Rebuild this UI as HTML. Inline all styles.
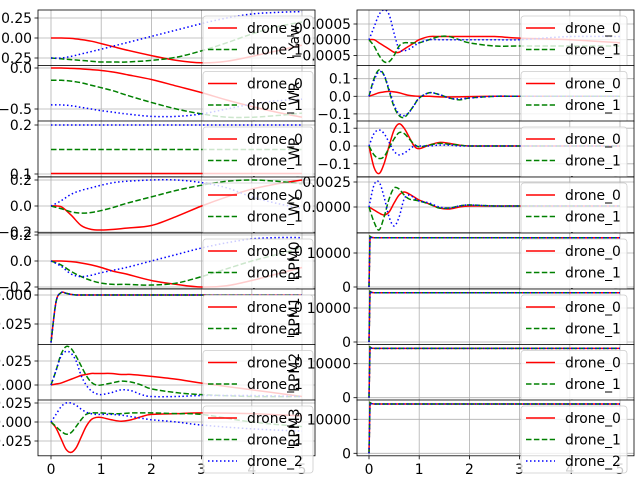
<!DOCTYPE html>
<html><head><meta charset="utf-8"><style>
html,body{margin:0;padding:0;background:#fff;width:640px;height:480px;overflow:hidden}
svg{display:block;font-family:"DejaVu Sans","Liberation Sans",sans-serif}
</style></head><body>
<svg id="fig" width="640" height="480" viewBox="0 0 640 480" xmlns="http://www.w3.org/2000/svg"></svg>
<script>
// ---- data ----
const T1 = [0,0.2,0.4,0.6,0.8,1,1.25,1.5,2,2.5,3,3.5,4,4.5,5];
const T2 = [0,0.1,0.2,0.3,0.4,0.5,0.6,0.7,0.8,0.9,1,1.2,1.4,1.6,1.8,2,2.5,3,4,5];
const T3 = [0,0.02,0.05,0.1,5];
const xTicks = [0,1,2,3,4,5];
const seriesNames = ["drone_0","drone_1","drone_2"];

const L0_red = [0,0,-0.005,-0.02,-0.04,-0.07,-0.11,-0.15,-0.22,-0.28,-0.31,-0.29,-0.23,-0.16,-0.09];
const L0_green = [-0.25,-0.26,-0.27,-0.28,-0.29,-0.3,-0.3,-0.3,-0.28,-0.24,-0.16,-0.06,0.05,0.14,0.2];
const L0_blue = [-0.25,-0.25,-0.23,-0.2,-0.17,-0.14,-0.1,-0.06,0.02,0.1,0.18,0.25,0.3,0.32,0.33];
const L1_red = [0,0,-0.005,-0.01,-0.02,-0.03,-0.05,-0.08,-0.14,-0.22,-0.3,-0.39,-0.47,-0.54,-0.6];
const L1_green = [-0.15,-0.15,-0.16,-0.18,-0.21,-0.24,-0.28,-0.33,-0.42,-0.5,-0.56,-0.6,-0.6,-0.58,-0.55];
const L1_blue = [-0.45,-0.45,-0.46,-0.48,-0.5,-0.52,-0.54,-0.56,-0.59,-0.59,-0.56,-0.5,-0.44,-0.4,-0.38];
const L2_red = [0.101,0.101,0.101,0.101,0.101,0.101,0.101,0.101,0.101,0.101,0.101,0.101,0.101,0.101,0.101];
const L2_green = [0.15,0.15,0.15,0.15,0.15,0.15,0.15,0.15,0.15,0.15,0.15,0.15,0.15,0.15,0.15];
const L2_blue = [0.2,0.2,0.2,0.2,0.2,0.2,0.2,0.2,0.2,0.2,0.2,0.2,0.2,0.2,0.2];
const L3_red = [0,-0.005,-0.07,-0.15,-0.18,-0.185,-0.18,-0.17,-0.15,-0.08,0,0.07,0.13,0.17,0.2];
const L3_green = [0,-0.02,-0.045,-0.055,-0.05,-0.035,-0.01,0.02,0.07,0.12,0.16,0.19,0.2,0.19,0.17];
const L3_blue = [0,0.04,0.09,0.12,0.14,0.16,0.18,0.19,0.2,0.2,0.18,0.14,0.07,0.02,-0.02];
const L4_red = [0,0,-0.005,-0.015,-0.03,-0.05,-0.08,-0.1,-0.15,-0.18,-0.2,-0.19,-0.15,-0.1,-0.05];
const L4_green = [0,-0.03,-0.08,-0.12,-0.15,-0.17,-0.18,-0.18,-0.185,-0.17,-0.12,-0.06,0,0.05,0.1];
const L4_blue = [0,-0.04,-0.1,-0.12,-0.11,-0.09,-0.07,-0.05,0,0.05,0.1,0.14,0.17,0.18,0.18];
const L5_red = [-0.041,-0.006,0.002,0.0015,0.0005,0,0,0,0,0,0,0,0,0,0,0,0,0,0,0];
const L5_green = [-0.041,-0.006,0.002,0.0015,0.0005,0,0,0,0,0,0,0,0,0,0,0,0,0,0,0];
const L5_blue = [-0.041,-0.006,0.002,0.0015,0.0005,0,0,0,0,0,0,0,0,0,0,0,0,0,0,0];
const L6_red = [0,0.001,0.002,0.004,0.006,0.008,0.01,0.011,0.012,0.012,0.012,0.012,0.011,0.011,0.01,0.009,0.006,0.002,-0.005,-0.012];
const L6_green = [0,0.015,0.032,0.04,0.038,0.03,0.02,0.01,0.003,0,0,0.002,0.004,0.003,0,-0.004,-0.008,-0.01,-0.012,-0.012];
const L6_blue = [0,0.015,0.03,0.035,0.033,0.025,0.01,0,-0.006,-0.009,-0.01,-0.008,-0.005,-0.006,-0.01,-0.012,-0.012,-0.011,-0.011,-0.012];
const L7_red = [0,-0.008,-0.022,-0.036,-0.04,-0.034,-0.02,-0.006,0.003,0.006,0.006,0.003,0.001,0.003,0.007,0.01,0.011,0.012,0.011,0.008];
const L7_green = [0,-0.006,-0.012,-0.016,-0.014,-0.006,0.003,0.01,0.012,0.012,0.012,0.011,0.011,0.012,0.012,0.012,0.011,0.01,0,-0.006];
const L7_blue = [0,0.01,0.02,0.025,0.025,0.022,0.017,0.013,0.011,0.01,0.01,0.01,0.009,0.007,0.005,0.003,0,-0.004,-0.009,-0.012];
const R0_red = [0,0,-0.0001,-0.0002,-0.0003,-0.0004,-0.0004,-0.0003,-0.0002,-0.0001,0,0.0001,0.0001,0.0001,0.0001,0.0001,0.0001,0.00005,0,-0.0001];
const R0_green = [0,-0.0002,-0.0005,-0.0007,-0.0007,-0.0005,-0.0002,-0.0001,-0.0001,-0.0001,-0.0001,0,0.0001,0.0001,0,-0.0001,-0.0002,-0.0002,-0.0002,-0.0002];
const R0_blue = [0,0.0004,0.0008,0.00095,0.0008,0.0002,-0.0003,-0.00035,-0.0003,-0.0002,-0.0001,0,0,0,0,0,0,0,0.0001,0.0001];
const R1_red = [0,0.01,0.02,0.025,0.028,0.025,0.02,0.012,0.005,0.002,0,0,-0.003,-0.004,-0.003,-0.002,0,0,0,0];
const R1_green = [0,0.1,0.15,0.12,0.03,-0.06,-0.11,-0.12,-0.09,-0.05,-0.01,0.02,0.01,-0.01,-0.02,-0.01,0,0,0,0];
const R1_blue = [0,0.09,0.14,0.12,0.04,-0.05,-0.1,-0.11,-0.09,-0.05,-0.01,0.02,0.01,-0.01,-0.015,-0.01,0,0,0,0];
const R2_red = [0,-0.12,-0.155,-0.1,0,0.09,0.125,0.1,0.05,0,-0.015,0.005,0.02,0.015,0.005,0,0,0,0,0];
const R2_green = [0,-0.05,-0.07,-0.06,-0.01,0.04,0.075,0.07,0.04,0.01,-0.005,0.005,0.015,0.01,0.005,0,0,0,0,0];
const R2_blue = [0,0.07,0.09,0.07,0.02,-0.03,-0.05,-0.04,-0.02,0,0,0,0.005,0.005,0,0,0,0,0,0];
const R3_red = [0,-0.0003,-0.0006,-0.0008,-0.0005,0.0004,0.0012,0.0015,0.0013,0.001,0.0007,0.0003,-0.0001,-0.0002,0,0.0001,0.0001,0.0001,0.0001,0.0001];
const R3_green = [0,-0.0015,-0.0023,-0.001,0.0008,0.0019,0.0018,0.0012,0.0008,0.0007,0.0006,0.0003,-0.0001,-0.0001,0.0001,0.0002,0.0001,0.0001,0.0001,0.0001];
const R3_blue = [0,0.0022,0.0025,0.001,-0.001,-0.0019,-0.001,0.0008,0.0012,0.0009,0.0006,0.0004,0,-0.0001,0.0001,0.0002,0.0001,0.0001,0.0001,0.0001];
const RPM_red = [0,14900,14600,14500,14500];
const RPM_green = [0,14900,14600,14500,14500];
const RPM_blue = [0,14900,14600,14500,14500];

// ---- layout ----
const rowTops = [10,65.5,121,177,233,289,344.5,400];
const rowH = 55.8;
const cols = [{x0:38,x1:315,t0:51,legX:203,legW:110},{x0:357,x1:634,t0:369,legX:521,legW:106}];
const PX = 50.2;
const panels = [
 [0,0,T1,L0_red,L0_green,L0_blue,[0.25,0,-0.25],["0.25","0.00","\u22120.25"],38,80,""],
 [1,0,T2,R0_red,R0_green,R0_blue,[0.0005,0,-0.0005],["0.0005","0.0000","\u22120.0005"],39.7,31400,"Yaw"],
 [0,1,T1,L1_red,L1_green,L1_blue,[0,-0.5],["0.0","\u22120.5"],68,82,""],
 [1,1,T2,R1_red,R1_green,R1_blue,[0.1,0,-0.1],["0.1","0.0","\u22120.1"],96.3,176,"WR"],
 [0,2,T1,L2_red,L2_green,L2_blue,[0.2,0.1],["0.2","0.1"],125+0.2*490,490,""],
 [1,2,T2,R2_red,R2_green,R2_blue,[0.1,0,-0.1],["0.1","0.0","\u22120.1"],146,178,"WP"],
 [0,3,T1,L3_red,L3_green,L3_blue,[0.2,0,-0.2],["0.2","0.0","\u22120.2"],206,130,""],
 [1,3,T2,R3_red,R3_green,R3_blue,[0.0025,0],["0.0025","0.0000"],207,10000,"WY"],
 [0,4,T1,L4_red,L4_green,L4_blue,[0.2,0,-0.2],["0.2","0.0","\u22120.2"],261,130,""],
 [1,4,T3,RPM_red,RPM_green,RPM_blue,[10000,0],["10000","0"],287,0.0034,"RPM0"],
 [0,5,T2,L5_red,L5_green,L5_blue,[0,-0.025],["0.000","\u22120.025"],295,1160,""],
 [1,5,T3,RPM_red,RPM_green,RPM_blue,[10000,0],["10000","0"],342,0.0034,"RPM1"],
 [0,6,T2,L6_red,L6_green,L6_blue,[0.025,0],["0.025","0.000"],385,960,""],
 [1,6,T3,RPM_red,RPM_green,RPM_blue,[10000,0],["10000","0"],397.7,0.0034,"RPM2"],
 [0,7,T2,L7_red,L7_green,L7_blue,[0.025,0,-0.025],["0.025","0.000","\u22120.025"],422,760,""],
 [1,7,T3,RPM_red,RPM_green,RPM_blue,[10000,0],["10000","0"],453.3,0.0034,"RPM3"]
];
const styles = [
 {c:"#ff0000",d:""},
 {c:"#008000",d:"5.5,2.4"},
 {c:"#0000ff",d:"1.5,2.5"}
];
const FS = 13.9;
const NS="http://www.w3.org/2000/svg";
const svg=document.getElementById('fig');
function el(tag,attrs,parent){const e=document.createElementNS(NS,tag);for(const k in attrs)e.setAttribute(k,attrs[k]);(parent||svg).appendChild(e);return e;}
function smoothPath(pts){
 let d="M"+pts[0][0].toFixed(2)+","+pts[0][1].toFixed(2);
 for(let i=0;i<pts.length-1;i++){
  const p0=pts[Math.max(0,i-1)],p1=pts[i],p2=pts[i+1],p3=pts[Math.min(pts.length-1,i+2)];
  const c1=[p1[0]+(p2[0]-p0[0])/6,p1[1]+(p2[1]-p0[1])/6];
  const c2=[p2[0]-(p3[0]-p1[0])/6,p2[1]-(p3[1]-p1[1])/6];
  d+=" C"+c1[0].toFixed(2)+","+c1[1].toFixed(2)+" "+c2[0].toFixed(2)+","+c2[1].toFixed(2)+" "+p2[0].toFixed(2)+","+p2[1].toFixed(2);
 }
 return d;
}
const defs=el('defs',{});
panels.forEach((p,idx)=>{
 const [ci,ri,T,red,green,blue,ticks,labels,zero,ppu,ylab]=p;
 const col=cols[ci], top=rowTops[ri], bot=top+rowH;
 const xs=t=>col.t0+t*PX, ys=v=>zero-v*ppu;
 const g=el('g',{});
 
 
 const cp=el('clipPath',{id:'c'+idx},defs);
 el('rect',{x:col.x0,y:top,width:col.x1-col.x0,height:rowH},cp);
 const bg=el('rect',{x:col.x0,y:top,width:col.x1-col.x0,height:rowH,fill:"#fff"},g);
 
 
 const cg=el('g',{'clip-path':'url(#c'+idx+')'},g);
 xTicks.forEach(t=>{el('line',{x1:xs(t),x2:xs(t),y1:top,y2:bot,stroke:"#b0b0b0","stroke-width":0.8},cg);});
 ticks.forEach(v=>{el('line',{x1:col.x0,x2:col.x1,y1:ys(v),y2:ys(v),stroke:"#b0b0b0","stroke-width":0.8},cg);});
 [red,green,blue].forEach((vals,si)=>{
  const pts=T.map((t,i)=>[xs(t),ys(vals[i])]);
  const path=el('path',{d:(T.length<=5?"M"+pts.map(q=>q[0].toFixed(2)+","+q[1].toFixed(2)).join(" L"):smoothPath(pts)),fill:"none",stroke:styles[si].c,"stroke-width":1.5,"stroke-dasharray":styles[si].d||"none"},cg);
  
  
 });
 el('rect',{x:col.x0,y:top,width:col.x1-col.x0,height:rowH,fill:"none",stroke:"#000","stroke-width":0.8},g);
 ticks.forEach((v,i)=>{
  const y=ys(v);
  el('line',{x1:col.x0-3.5,x2:col.x0,y1:y,y2:y,stroke:"#000","stroke-width":0.8},g);
  const tx=el('text',{x:col.x0-6,y:y+5,"text-anchor":"end","font-size":FS,fill:"#000"},g);
  tx.textContent=labels[i];
  
  
 });
 if(ri===7){
  xTicks.forEach(t=>{
   el('line',{x1:xs(t),x2:xs(t),y1:bot,y2:bot+3.5,stroke:"#000","stroke-width":0.8},g);
   const tx=el('text',{x:xs(t),y:bot+18,"text-anchor":"middle","font-size":FS,fill:"#000"},g);
   tx.textContent=String(t);
   
   
  });
 }
 const lg=el('g',{},g);
 
 
 const ly=top+6;
 el('rect',{x:col.legX,y:ly,width:col.legW,height:67,rx:3,fill:"#fff","fill-opacity":0.8,stroke:"#cccccc","stroke-width":0.8},lg);
 seriesNames.forEach((n,si)=>{
  const yy=ly+12+si*21.5;
  el('line',{x1:col.legX+5,x2:col.legX+34,y1:yy,y2:yy,stroke:styles[si].c,"stroke-width":1.5,"stroke-dasharray":styles[si].d||"none"},lg);
  const tx=el('text',{x:col.legX+44,y:yy+5,"font-size":FS,fill:"#000"},lg);
  tx.textContent=n;
  
  
 });
 if(ylab){
  const cy=top+rowH/2;
  const tx=el('text',{x:0,y:0,"text-anchor":"middle","font-size":FS,fill:"#000",transform:"translate(299,"+cy+") rotate(-90)"},g);
  tx.textContent=ylab;
  
  
 }
});
</script>
</body></html>
